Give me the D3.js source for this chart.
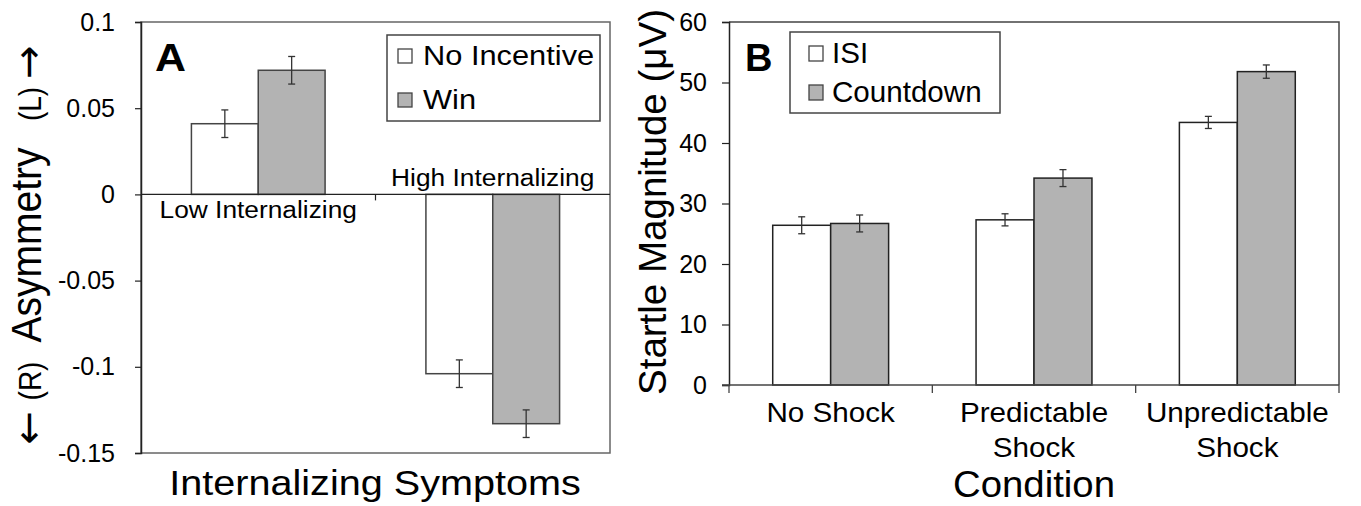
<!DOCTYPE html>
<html><head><meta charset="utf-8">
<script src="https://cdn.jsdelivr.net/npm/d3@7/dist/d3.min.js"></script>
<style>body{margin:0;background:#fff}svg{display:block}text{font-family:"Liberation Sans",Arial,Helvetica,sans-serif;fill:#000}</style>
</head><body><svg id="c" width="1361" height="506"></svg>
<script>
// Panel A data
const groupsA = ["Low Internalizing", "High Internalizing"];
const seriesA = ["No Incentive", "Win"];
const noIncentive = [0.041, -0.104];
const noIncentiveErr = [0.008, 0.008];
const win = [0.072, -0.133];
const winErr = [0.008, 0.008];
const yTicksA = [0.1, 0.05, 0, -0.05, -0.1, -0.15];

// Panel B data
const conditionsB = ["No Shock", "Predictable Shock", "Unpredictable Shock"];
const conditionLinesB = [["No Shock"], ["Predictable", "Shock"], ["Unpredictable", "Shock"]];
const seriesB = ["ISI", "Countdown"];
const isi = [26.4, 27.3, 43.4];
const isiErr = [1.4, 1.0, 1.0];
const countdown = [26.7, 34.2, 51.8];
const countdownErr = [1.4, 1.4, 1.1];
const yTicksB = [0, 10, 20, 30, 40, 50, 60];

const fills = ["#ffffff", "#b3b3b3"];
const svg = d3.select("#c");

function stext(g, x, y, str, size, sx, anchor, weight) {
  return g.append("text")
    .attr("transform", `translate(${x},${y}) scale(${sx},1)`)
    .attr("text-anchor", anchor || "start")
    .attr("font-size", size)
    .attr("font-weight", weight || "normal")
    .text(str);
}
function vtext(g, x, y, str, size, sx, family) {
  const t = g.append("text")
    .attr("transform", `translate(${x},${y}) scale(${sx},1) rotate(-90)`)
    .attr("text-anchor", "middle")
    .attr("font-size", size)
    .text(str);
  if (family) t.style("font-family", family);
  return t;
}

function drawBars(g, groups, series, vals, errs, x, xs, y, stroke) {
  groups.forEach((grp, gi) => {
    series.forEach((s, si) => {
      const v = vals[si][gi], e = errs[si][gi];
      const x0 = x(grp) + xs(s);
      g.append("rect")
        .attr("x", x0).attr("width", xs.bandwidth())
        .attr("y", Math.min(y(v), y(0))).attr("height", Math.abs(y(v) - y(0)))
        .attr("fill", fills[si]).attr("stroke", stroke).attr("stroke-width", 1.5);
      const cx = x0 + xs.bandwidth() / 2;
      const eg = g.append("g").attr("stroke", "#333").attr("stroke-width", 1.3);
      eg.append("line").attr("x1", cx).attr("x2", cx).attr("y1", y(v + e)).attr("y2", y(v - e));
      [v + e, v - e].forEach(t => eg.append("line").attr("x1", cx - 3.5).attr("x2", cx + 3.5).attr("y1", y(t)).attr("y2", y(t)));
    });
  });
}

// ---------- Panel A ----------
const A = svg.append("g");
const yA = d3.scaleLinear().domain([-0.15, 0.1]).range([453, 22]);
const xA = d3.scaleBand().domain(groupsA).range([141, 610]).paddingInner(0.43).paddingOuter(0.215);
const xsA = d3.scaleBand().domain(seriesA).range([0, xA.bandwidth()]);

A.append("rect").attr("x", 141).attr("y", 22).attr("width", 610 - 141).attr("height", 453 - 22)
  .attr("fill", "none").attr("stroke", "#666").attr("stroke-width", 1.5);

drawBars(A, groupsA, seriesA, [noIncentive, win], [noIncentiveErr, winErr], xA, xsA, yA, "#444");

const axA = A.append("g").attr("transform", "translate(141,0)")
  .call(d3.axisLeft(yA).tickValues(yTicksA).tickFormat(d => String(d)).tickSize(6).tickPadding(20));
axA.select(".domain").attr("stroke", "#222").attr("stroke-width", 1.5);
axA.selectAll(".tick line").attr("stroke", "#222").attr("stroke-width", 1.2);
axA.selectAll(".tick text").attr("font-size", 25).attr("font-family", "Liberation Sans, Arial, sans-serif").attr("fill", "#000");

// zero line + category divider tick
A.append("line").attr("x1", 141).attr("x2", 610).attr("y1", yA(0)).attr("y2", yA(0)).attr("stroke", "#222").attr("stroke-width", 1.3);
const divA = xA(groupsA[1]) - xA.step() * xA.paddingInner() / 2;
A.append("line").attr("x1", divA).attr("x2", divA).attr("y1", yA(0)).attr("y2", yA(0) + 6).attr("stroke", "#222").attr("stroke-width", 1.2);

// category labels
groupsA.forEach((g, i) => {
  const cx = xA(g) + xA.bandwidth() / 2;
  const below = noIncentive[i] >= 0;
  stext(A, cx, below ? yA(0) + 24 : yA(0) - 8, g, 23.5, 1.12, "middle");
});

stext(A, 155, 71, "A", 39, 1.1, "start", "bold");

// legend A
const lgA = A.append("g");
lgA.append("rect").attr("x", 387).attr("y", 35).attr("width", 213).attr("height", 86)
  .attr("fill", "#fff").attr("stroke", "#444").attr("stroke-width", 1.5);
seriesA.forEach((s, i) => {
  const yy = [49, 93][i];
  lgA.append("rect").attr("x", 398).attr("y", yy).attr("width", 14).attr("height", 14)
    .attr("fill", fills[i]).attr("stroke", "#444").attr("stroke-width", 1.3);
  stext(lgA, 423, yy + 16, s, 27.5, 1.12, "start");
});

// axis titles A
stext(A, 375, 495, "Internalizing Symptoms", 36, 1.1, "middle");
const arrowFont = "'DejaVu Sans', sans-serif";
vtext(A, 42, 62, "\u2192", 40, 1.0, arrowFont);
vtext(A, 41, 104, "(L)", 28, 1.1);
vtext(A, 41, 245, "Asymmetry", 39, 1.1);
vtext(A, 41, 381, "(R)", 28, 1.1);
vtext(A, 42, 428, "\u2190", 40, 1.0, arrowFont);

// ---------- Panel B ----------
const B = svg.append("g");
const yB = d3.scaleLinear().domain([0, 60]).range([385, 22]);
const xB = d3.scaleBand().domain(conditionsB).range([729, 1339]).paddingInner(0.43).paddingOuter(0.215);
const xsB = d3.scaleBand().domain(seriesB).range([0, xB.bandwidth()]);

B.append("path").attr("d", `M729,22H1339V385`).attr("fill", "none").attr("stroke", "#444").attr("stroke-width", 1.5);

drawBars(B, conditionsB, seriesB, [isi, countdown], [isiErr, countdownErr], xB, xsB, yB, "#222");

const axB = B.append("g").attr("transform", "translate(729,0)")
  .call(d3.axisLeft(yB).tickValues(yTicksB).tickSize(7).tickPadding(15));
axB.select(".domain").attr("stroke", "#222").attr("stroke-width", 1.5);
axB.selectAll(".tick line").attr("stroke", "#222").attr("stroke-width", 1.2);
axB.selectAll(".tick text").attr("font-size", 25).attr("font-family", "Liberation Sans, Arial, sans-serif").attr("fill", "#000");

B.append("line").attr("x1", 722).attr("x2", 1339).attr("y1", yB(0)).attr("y2", yB(0)).attr("stroke", "#444").attr("stroke-width", 1.5);
const divB = conditionsB.map(c => xB(c) - xB.step() * xB.paddingInner() / 2).concat([1339]);
divB[0] = 729;
divB.forEach(d => B.append("line").attr("x1", d).attr("x2", d).attr("y1", yB(0)).attr("y2", yB(0) + 8).attr("stroke", "#444").attr("stroke-width", 1.3));

conditionsB.forEach((c, i) => {
  const cx = xB(c) + xB.bandwidth() / 2;
  conditionLinesB[i].forEach((ln, j) => stext(B, cx, 422 + j * 35, ln, 28.5, 1.04, "middle"));
});

stext(B, 745, 71, "B", 38, 1.0, "start", "bold");

const lgB = B.append("g");
lgB.append("rect").attr("x", 790).attr("y", 32).attr("width", 210).attr("height", 81)
  .attr("fill", "#fff").attr("stroke", "#444").attr("stroke-width", 1.5);
seriesB.forEach((s, i) => {
  const yy = [46, 85][i];
  lgB.append("rect").attr("x", 809).attr("y", yy).attr("width", 14).attr("height", 15)
    .attr("fill", fills[i]).attr("stroke", "#444").attr("stroke-width", 1.3);
  stext(lgB, 832, yy + 17, s, 29, 1.02, "start");
});

stext(B, 1034, 497, "Condition", 36.5, 1.05, "middle");
B.append("text").attr("transform", "translate(666,202) rotate(-90)")
  .attr("text-anchor", "middle").attr("font-size", 38.5).text("Startle Magnitude (\u03bcV)");
</script></body></html>
